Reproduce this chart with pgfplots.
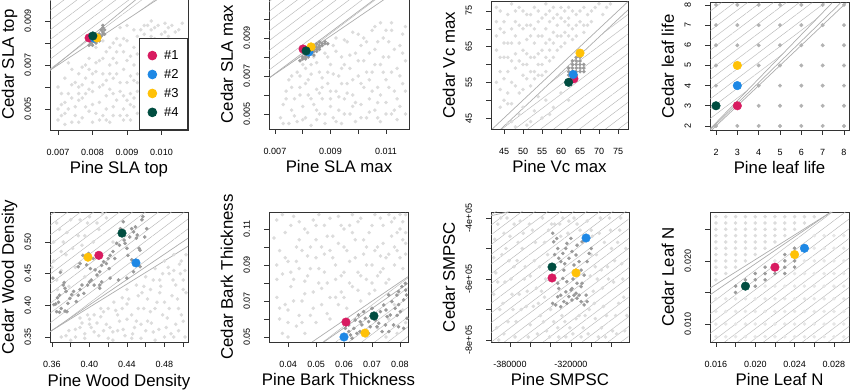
\documentclass[border=0pt]{standalone}
\usepackage{pgfplots}
\pgfplotsset{compat=1.18}
\usepackage{graphicx}
\usepackage{fontspec}
\setmainfont{Liberation Sans}
\usetikzlibrary{patterns.meta}
\definecolor{cA}{HTML}{D81B60}
\definecolor{cB}{HTML}{1E88E5}
\definecolor{cC}{HTML}{FFC107}
\definecolor{cD}{HTML}{004D40}
\definecolor{lg}{HTML}{DCDCDC}
\definecolor{dg}{HTML}{9A9A9A}
\definecolor{mg}{HTML}{B2B2B2}
\definecolor{fg}{HTML}{E6E6E6}
\definecolor{hg}{HTML}{B8B8B8}
\definecolor{bg}{HTML}{ADADAD}
\definecolor{fr}{HTML}{333333}
\newcommand\rl[1]{\rotatebox{90}{\raisebox{0pt}[\height][0pt]{#1}}}
\pgfplotsset{
 panel/.style={scale only axis, anchor=south west,
  axis line style={draw=fr, line width=0.8pt},
  tick align=outside, tick pos=left, major tick length=5pt,
  tick style={draw=fr, line width=0.6pt}, scaled ticks=false,
  xticklabel style={font=\fontsize{9}{10}\selectfont, anchor=north, inner sep=0pt, yshift=-14pt},
  yticklabel style={font=\fontsize{9}{10}\selectfont, anchor=east, inner sep=0pt, xshift=-14pt},
  every axis x label/.style={at={(axis description cs:0.5,0)}, anchor=base, yshift=-44pt, font=\fontsize{16.8}{20}\selectfont},
  every axis y label/.style={at={(axis description cs:0,0.5)}, anchor=east, inner sep=0pt, xshift=-36pt, font=\fontsize{16.8}{20}\selectfont}},
 lp/.style={only marks, mark=*, mark size=1.6pt, color=lg, forget plot},
 fp/.style={only marks, mark=*, mark size=1.6pt, color=fg, forget plot},
 mp/.style={only marks, mark=*, mark size=1.8pt, color=mg, forget plot},
 dp/.style={only marks, mark=*, mark size=1.6pt, color=dg, forget plot},
 hatch/.style={draw=none, pattern={Lines[angle=37,distance=7.8pt,line width=0.45pt]}, pattern color=hg, forget plot},
 bl/.style={draw=bg, line width=0.7pt, mark=none, forget plot},
 cpt/.style={only marks, mark=*, mark size=4.3pt, color=#1, legend image code/.code={\fill[#1] (0pt,0pt) circle (4.4pt);}},
 cpf/.style={only marks, mark=*, mark size=4.3pt, color=#1, forget plot},
}
\begin{document}
\begin{tikzpicture}
\path[use as bounding box] (0pt,0pt) rectangle (850pt,390pt);
% ---------------- P1 SLA top
\begin{axis}[panel, at={(50pt,260pt)}, width=138pt, height=131pt,
 xmin=0.006768, xmax=0.010768, ymin=0.004045, ymax=0.0100,
 xtick={0.007,0.008,0.009,0.010}, xticklabels={0.007,0.008,0.009,0.010},
 ytick={0.005,0.006,0.007,0.008,0.009}, yticklabels={\rl{0.005},,\rl{0.007},,\rl{0.009}},
 xlabel={Pine SLA top}, ylabel={\rl{Cedar SLA top}},
 legend style={at={(1,0)}, anchor=south east, draw=fr, line width=0.8pt, fill=white,
  font=\fontsize{13}{13}\selectfont, inner xsep=8pt, inner ysep=11pt, row sep=6.4pt, column sep=6pt, nodes={inner sep=1pt}},
 legend cell align=left]
\addplot[lp] coordinates {(0.0070,0.0045) (0.0071,0.0052) (0.0070,0.0060) (0.0072,0.0048) (0.0073,0.0057) (0.0072,0.0064) (0.0074,0.0044) (0.0075,0.0051) (0.0074,0.0068) (0.0076,0.0060) (0.0077,0.0046) (0.0077,0.0055) (0.0078,0.0064) (0.0078,0.0070) (0.0079,0.0049) (0.0080,0.0058) (0.0080,0.0044) (0.0081,0.0067) (0.0082,0.0053) (0.0082,0.0072) (0.0083,0.0047) (0.0083,0.0061) (0.0084,0.0056) (0.0085,0.0070) (0.0085,0.0044) (0.0086,0.0064) (0.0086,0.0051) (0.0087,0.0076) (0.0088,0.0058) (0.0088,0.0047) (0.0089,0.0068) (0.0089,0.0082) (0.0090,0.0054) (0.0090,0.0062) (0.0091,0.0045) (0.0091,0.0074) (0.0092,0.0086) (0.0092,0.0051) (0.0093,0.0066) (0.0093,0.0058) (0.0094,0.0079) (0.0094,0.0044) (0.0095,0.0084) (0.0095,0.0088) (0.0096,0.0081) (0.0097,0.0086) (0.0098,0.0082) (0.0099,0.0088) (0.0100,0.0080) (0.0101,0.0085) (0.0102,0.0083) (0.0103,0.0088) (0.0104,0.0080) (0.0105,0.0086) (0.0088,0.0087) (0.0090,0.0088) (0.0086,0.0080) (0.0084,0.0076) (0.0079,0.0073) (0.0076,0.0066) (0.0073,0.0071) (0.0071,0.0057) (0.0075,0.0047) (0.0076,0.0054) (0.0078,0.0051) (0.0080,0.0062) (0.0081,0.0048) (0.0083,0.0066) (0.0084,0.0050) (0.0085,0.0059) (0.0087,0.0054) (0.0087,0.0066) (0.0089,0.0050) (0.0090,0.0072) (0.0091,0.0057) (0.0092,0.0063) (0.0093,0.0048) (0.0092,0.0078) (0.0089,0.0076) (0.0086,0.0073) (0.0082,0.0060) (0.0079,0.0059) (0.0074,0.0055) (0.0072,0.0043) (0.0077,0.0061) (0.0081,0.0078) (0.0083,0.0081) (0.0097,0.0090) (0.0101,0.0089) (0.0105,0.0081) (0.0099,0.0079)};
\addplot[lp] coordinates {(0.0071,0.0047) (0.0073,0.0050) (0.0075,0.0062) (0.0076,0.0044) (0.0077,0.0069) (0.0078,0.0057) (0.0080,0.0066) (0.0080,0.0052) (0.0081,0.0071) (0.0082,0.0045) (0.0084,0.0063) (0.0085,0.0066) (0.0086,0.0047) (0.0086,0.0057) (0.0087,0.0071) (0.0088,0.0062) (0.0088,0.0079) (0.0089,0.0056) (0.0090,0.0047) (0.0090,0.0081) (0.0091,0.0065) (0.0091,0.0052) (0.0092,0.0070) (0.0093,0.0083) (0.0093,0.0075) (0.0094,0.0061) (0.0094,0.0086) (0.0095,0.0079) (0.0096,0.0088) (0.0097,0.0083) (0.0098,0.0087) (0.0100,0.0084) (0.0102,0.0087) (0.0104,0.0085) (0.0106,0.0089) (0.0079,0.0068) (0.0083,0.0073) (0.0085,0.0078) (0.0087,0.0082) (0.0074,0.0061) (0.0072,0.0053) (0.0070,0.0050) (0.0076,0.0057) (0.0084,0.0045) (0.0089,0.0045) (0.0092,0.0055) (0.0093,0.0062)};
\addplot[hatch] coordinates {(0.006768,0.00676) (0.0099,0.0100) (0.006768,0.0100)} -- cycle;
\addplot[bl] coordinates {(0.006768,0.00676) (0.00928,0.0100)};
\addplot[bl] coordinates {(0.006768,0.00676) (0.0099,0.0100)};
\addplot[dp] coordinates {(0.00790,0.00790) (0.00795,0.00800) (0.00800,0.00805) (0.00805,0.00810) (0.00810,0.00815) (0.00815,0.00820) (0.00820,0.00820) (0.00825,0.00830) (0.00830,0.00840) (0.00830,0.00850) (0.00825,0.00860) (0.00830,0.00870) (0.00810,0.00800) (0.00820,0.00810) (0.00800,0.00790) (0.00805,0.00825) (0.00820,0.00840) (0.00815,0.00835) (0.00835,0.00840) (0.00810,0.00830) (0.00835,0.00860) (0.00830,0.00880) (0.00795,0.00815)};
\addplot[cpt=cA] coordinates {(0.00790,0.00823)};
\addplot[cpt=cB] coordinates {(0.00805,0.00822)};
\addplot[cpt=cC] coordinates {(0.00813,0.00823)};
\addplot[cpt=cD] coordinates {(0.00801,0.00832)};
\legend{\#1,\#2,\#3,\#4}
\end{axis}
% ---------------- P2 SLA max
\begin{axis}[panel, at={(269pt,261pt)}, width=140pt, height=130pt,
 xmin=0.006784, xmax=0.011829, ymin=0.004211, ymax=0.01105,
 xtick={0.007,0.008,0.009,0.010,0.011}, xticklabels={0.007,,0.009,,0.011},
 ytick={0.005,0.006,0.007,0.008,0.009,0.010}, yticklabels={\rl{0.005},,\rl{0.007},,\rl{0.009},},
 xlabel={Pine SLA max}, ylabel={\rl{Cedar SLA max}}]
\addplot[lp] coordinates {(0.0072,0.0048) (0.0073,0.0055) (0.0074,0.0062) (0.0075,0.0045) (0.0075,0.0068) (0.0076,0.0052) (0.0077,0.0058) (0.0078,0.0072) (0.0078,0.0046) (0.0079,0.0064) (0.0080,0.0054) (0.0080,0.0076) (0.0081,0.0048) (0.0082,0.0060) (0.0082,0.0068) (0.0083,0.0044) (0.0084,0.0055) (0.0084,0.0080) (0.0085,0.0063) (0.0086,0.0050) (0.0086,0.0072) (0.0087,0.0058) (0.0088,0.0082) (0.0088,0.0045) (0.0089,0.0066) (0.0090,0.0054) (0.0090,0.0076) (0.0091,0.0048) (0.0091,0.0086) (0.0092,0.0062) (0.0093,0.0070) (0.0093,0.0052) (0.0094,0.0080) (0.0094,0.0045) (0.0095,0.0058) (0.0096,0.0066) (0.0096,0.0088) (0.0097,0.0050) (0.0097,0.0074) (0.0098,0.0060) (0.0099,0.0082) (0.0099,0.0046) (0.0100,0.0070) (0.0100,0.0092) (0.0101,0.0055) (0.0102,0.0064) (0.0102,0.0078) (0.0103,0.0048) (0.0103,0.0088) (0.0104,0.0058) (0.0105,0.0072) (0.0105,0.0094) (0.0106,0.0052) (0.0106,0.0084) (0.0107,0.0064) (0.0108,0.0076) (0.0108,0.0046) (0.0109,0.0090) (0.0110,0.0056) (0.0110,0.0068) (0.0111,0.0080) (0.0112,0.0050) (0.0112,0.0094) (0.0113,0.0062) (0.0114,0.0074) (0.0115,0.0086) (0.0115,0.0054) (0.0116,0.0066) (0.0117,0.0078) (0.0117,0.0096) (0.0076,0.0064) (0.0079,0.0070) (0.0083,0.0076) (0.0087,0.0064) (0.0092,0.0090) (0.0089,0.0072) (0.0095,0.0076) (0.0098,0.0054) (0.0101,0.0086) (0.0104,0.0068) (0.0107,0.0056) (0.0109,0.0072) (0.0111,0.0088) (0.0113,0.0052) (0.0116,0.0092) (0.0081,0.0074) (0.0085,0.0047) (0.0090,0.0058) (0.0094,0.0066)};
\addplot[lp] coordinates {(0.0073,0.0045) (0.0074,0.0058) (0.0076,0.0070) (0.0077,0.0049) (0.0079,0.0060) (0.0080,0.0047) (0.0081,0.0066) (0.0083,0.0058) (0.0083,0.0071) (0.0085,0.0052) (0.0085,0.0077) (0.0086,0.0061) (0.0087,0.0069) (0.0088,0.0050) (0.0089,0.0080) (0.0090,0.0062) (0.0091,0.0071) (0.0092,0.0046) (0.0092,0.0083) (0.0093,0.0059) (0.0094,0.0074) (0.0095,0.0050) (0.0095,0.0089) (0.0096,0.0061) (0.0097,0.0081) (0.0098,0.0068) (0.0098,0.0093) (0.0099,0.0056) (0.0100,0.0078) (0.0101,0.0048) (0.0101,0.0066) (0.0102,0.0090) (0.0103,0.0072) (0.0104,0.0051) (0.0104,0.0082) (0.0105,0.0062) (0.0106,0.0076) (0.0106,0.0096) (0.0107,0.0048) (0.0107,0.0088) (0.0108,0.0060) (0.0109,0.0080) (0.0110,0.0050) (0.0110,0.0094) (0.0111,0.0064) (0.0112,0.0072) (0.0113,0.0084) (0.0114,0.0047) (0.0114,0.0058) (0.0115,0.0070) (0.0116,0.0082) (0.0117,0.0050) (0.0117,0.0062) (0.0112,0.0098) (0.0108,0.0098)};
\addplot[hatch] coordinates {(0.006784,0.00689) (0.01096,0.01105) (0.006784,0.01105)} -- cycle;
\addplot[bl] coordinates {(0.006784,0.00689) (0.0106,0.01105)};
\addplot[bl] coordinates {(0.006784,0.00689) (0.01096,0.01105)};
\addplot[dp] coordinates {(0.0079,0.0078) (0.0080,0.0079) (0.0081,0.0080) (0.0081,0.0081) (0.0082,0.0082) (0.0083,0.0082) (0.0083,0.0083) (0.0084,0.0083) (0.0084,0.0084) (0.0085,0.0084) (0.0085,0.0085) (0.0086,0.0085) (0.0086,0.0086) (0.0087,0.0086) (0.0087,0.0087) (0.0088,0.0087) (0.0088,0.0088) (0.0089,0.0087) (0.0082,0.0080) (0.0084,0.0081) (0.0085,0.0083) (0.0086,0.0084) (0.0083,0.0084) (0.0080,0.0080) (0.0082,0.0084) (0.0084,0.0086) (0.0085,0.0087) (0.0086,0.0088) (0.0081,0.0079)};
\addplot[cpf=cA] coordinates {(0.00801,0.00842)};
\addplot[cpf=cB] coordinates {(0.00822,0.00826)};
\addplot[cpf=cC] coordinates {(0.00830,0.00853)};
\addplot[cpf=cD] coordinates {(0.00812,0.00832)};
\end{axis}
% ---------------- P3 Vc max
\begin{axis}[panel, at={(491pt,261pt)}, width=137pt, height=127.3pt,
 xmin=41.58, xmax=77.63, ymin=41.92, ymax=77.6,
 xtick={45,50,55,60,65,70,75}, xticklabels={45,50,55,60,65,70,75},
 ytick={45,50,55,60,65,70,75}, yticklabels={\rl{45},,\rl{55},,\rl{65},,\rl{75}},
 xlabel={Pine Vc max}, ylabel={\rl{Cedar Vc max}}]
\addplot[lp] coordinates {(43,76) (44,70) (45,66) (46,74) (47,61) (48,68) (49,76) (50,57) (50,64) (51,71) (52,54) (53,66) (54,75) (55,60) (56,70) (57,64) (58,76) (59,68) (60,73) (61,66) (62,76) (63,70) (64,74) (66,76) (68,75) (70,77) (44,58) (45,50) (46,62) (47,55) (48,72) (49,52) (51,60) (52,74) (53,58) (54,68) (55,64) (57,72) (58,62) (59,74) (60,68) (62,71) (65,72) (67,74) (43,64) (44,48) (46,52) (48,63) (50,70) (52,62) (53,76) (56,58) (57,67) (61,72) (63,75) (45,72) (47,77) (49,66) (51,67) (54,63) (56,74) (58,66) (55,73) (60,76) (62,68) (43,55) (47,66) (52,68) (64,68) (66,71) (72,76) (59,64) (56,62) (54,57) (47,44) (49,46) (51,43) (53,47) (55,45) (56,50) (50,48) (58,48) (60,52) (52,44) (54,51) (57,46) (62,50) (46,43.5) (48,42.5)};
\addplot[lp] coordinates {(43,68) (43,72) (44,62) (44,75) (45,56) (45,69) (46,58) (46,66) (47,49) (47,70) (48,54) (48,59) (48,75) (49,61) (49,71) (50,53) (50,75) (51,56) (51,63) (51,74) (52,58) (52,71) (53,62) (53,70) (54,60) (54,72) (55,57) (55,68) (56,66) (56,77) (57,61) (57,75) (58,69) (58,73) (59,71) (60,65) (61,69) (61,75) (62,73) (63,67) (64,71) (65,75) (66,69) (67,71) (68,72) (69,76) (71,74) (73,77) (44,53) (46,49) (45,62) (53,56) (50,60)};
\addplot[hatch] coordinates {(44.2,41.92) (77.63,75.3) (77.63,41.92)} -- cycle;
\addplot[bl] coordinates {(41.92,41.92) (77.6,77.6)};
\addplot[bl] coordinates {(44.2,41.92) (77.63,75.3)};
\addplot[dp] coordinates {(62,57) (62,58) (62,59) (63,58) (63,59) (63,60) (63,61) (64,56) (64,57) (64,58) (64,59) (64,60) (64,61) (64,62) (65,58) (65,59) (65,60) (65,61) (66,58) (66,59) (66,60) (65,62) (63,57)};
\addplot[cpf=cA] coordinates {(63.4,56)};
\addplot[cpf=cB] coordinates {(63.2,57.2)};
\addplot[cpf=cC] coordinates {(65,63.2)};
\addplot[cpf=cD] coordinates {(62,55)};
\end{axis}
% ---------------- P4 leaf life
\begin{axis}[panel, at={(710pt,260pt)}, width=139pt, height=127.3pt,
 xmin=1.719, xmax=8.235, ymin=1.80, ymax=8.11,
 xtick={2,3,4,5,6,7,8}, xticklabels={2,3,4,5,6,7,8},
 ytick={2,3,4,5,6,7,8}, yticklabels={\rl{2},\rl{3},\rl{4},\rl{5},\rl{6},\rl{7},\rl{8}},
 xlabel={Pine leaf life}, ylabel={\rl{Cedar leaf life}}]
\addplot[hatch] coordinates {(1.719,1.85) (7.45,8.11) (1.719,8.11)} -- cycle;
\addplot[bl] coordinates {(1.719,1.85) (7.45,8.11)};
\addplot[bl] coordinates {(1.719,1.80) (7.85,8.11)};
\addplot[bl] coordinates {(1.80,1.80) (8.11,8.11)};
\addplot[mp] coordinates {(2,2) (3,2) (4,2) (5,2) (6,2) (7,2) (8,2) (2,3) (3,3) (4,3) (5,3) (6,3) (7,3) (8,3) (2,4) (3,4) (4,4) (5,4) (6,4) (7,4) (8,4) (2,5) (3,5) (4,5) (5,5) (6,5) (7,5) (8,5) (2,6) (3,6) (4,6) (5,6) (6,6) (7,6) (8,6) (2,7) (3,7) (4,7) (5,7) (6,7) (7,7) (8,7) (2,8) (3,8) (4,8) (5,8) (6,8) (7,8) (8,8)};
\addplot[cpf=cA] coordinates {(3,3)};
\addplot[cpf=cB] coordinates {(3,4)};
\addplot[cpf=cC] coordinates {(3,5)};
\addplot[cpf=cD] coordinates {(2,3)};
\end{axis}
% ---------------- P5 Wood density
\begin{axis}[panel, at={(50pt,48pt)}, width=138pt, height=130pt,
 xmin=0.3579, xmax=0.5051, ymin=0.3421, ymax=0.5474,
 xtick={0.36,0.38,0.40,0.42,0.44,0.46,0.48,0.50}, xticklabels={0.36,,0.40,,0.44,,0.48,},
 ytick={0.35,0.40,0.45,0.50}, yticklabels={\rl{0.35},\rl{0.40},\rl{0.45},\rl{0.50}},
 xlabel={Pine Wood Density}, ylabel={\rl{Cedar Wood Density}}]
\addplot[lp] coordinates {(0.375,0.352) (0.385,0.362) (0.395,0.355) (0.392,0.372) (0.402,0.365) (0.41,0.352) (0.412,0.382) (0.418,0.37) (0.425,0.358) (0.428,0.392) (0.432,0.375) (0.438,0.352) (0.44,0.402) (0.445,0.385) (0.448,0.365) (0.452,0.415) (0.455,0.348) (0.458,0.395) (0.462,0.375) (0.465,0.425) (0.468,0.358) (0.472,0.405) (0.475,0.44) (0.478,0.385) (0.482,0.365) (0.485,0.45) (0.488,0.415) (0.49,0.35) (0.492,0.432) (0.495,0.395) (0.498,0.47) (0.5,0.375) (0.502,0.455) (0.503,0.42) (0.38,0.345) (0.4,0.378) (0.42,0.395) (0.435,0.412) (0.45,0.432) (0.46,0.445) (0.47,0.458) (0.48,0.47) (0.49,0.48) (0.425,0.345) (0.445,0.348) (0.47,0.345) (0.495,0.36) (0.465,0.39) (0.43,0.36) (0.415,0.36) (0.455,0.37) (0.485,0.395) (0.475,0.42) (0.49,0.455) (0.395,0.348) (0.405,0.385) (0.44,0.378) (0.5,0.44) (0.48,0.35) (0.362,0.47) (0.368,0.52) (0.372,0.5) (0.375,0.48) (0.38,0.535) (0.385,0.46) (0.388,0.51) (0.392,0.495) (0.398,0.53) (0.404,0.5) (0.41,0.52) (0.418,0.538) (0.365,0.44) (0.37,0.455) (0.378,0.43) (0.425,0.5) (0.395,0.445)};
\addplot[lp] coordinates {(0.385,0.35) (0.39,0.365) (0.398,0.385) (0.405,0.358) (0.408,0.372) (0.415,0.39) (0.42,0.348) (0.422,0.365) (0.43,0.385) (0.435,0.395) (0.436,0.362) (0.442,0.41) (0.446,0.355) (0.45,0.375) (0.452,0.395) (0.456,0.42) (0.46,0.36) (0.462,0.41) (0.466,0.372) (0.468,0.44) (0.47,0.395) (0.474,0.362) (0.476,0.43) (0.48,0.405) (0.483,0.38) (0.484,0.46) (0.487,0.355) (0.489,0.44) (0.492,0.37) (0.494,0.41) (0.496,0.465) (0.498,0.385) (0.5,0.425) (0.502,0.35) (0.503,0.48) (0.497,0.45) (0.478,0.45) (0.458,0.43) (0.44,0.425) (0.426,0.405) (0.412,0.395) (0.4,0.37) (0.39,0.38) (0.378,0.36) (0.37,0.35) (0.362,0.5) (0.365,0.53) (0.37,0.485) (0.376,0.515) (0.382,0.49) (0.39,0.535) (0.395,0.51) (0.4,0.54) (0.408,0.53) (0.414,0.545) (0.36,0.46) (0.366,0.425)};
\addplot[hatch] coordinates {(0.3579,0.3584) (0.5051,0.506) (0.5051,0.5474) (0.3579,0.5474)} -- cycle;
\addplot[bl] coordinates {(0.3579,0.3584) (0.5051,0.506)};
\addplot[bl] coordinates {(0.3579,0.3584) (0.5051,0.4933)};
\addplot[dp] coordinates {(0.361,0.443) (0.362,0.401) (0.369,0.452) (0.372,0.432) (0.373,0.436) (0.374,0.427) (0.375,0.422) (0.368,0.416) (0.366,0.412) (0.364,0.402) (0.367,0.405) (0.370,0.395) (0.365,0.390) (0.368,0.389) (0.374,0.391) (0.376,0.390) (0.377,0.403) (0.379,0.411) (0.381,0.417) (0.383,0.422) (0.386,0.406) (0.388,0.416) (0.390,0.425) (0.392,0.432) (0.394,0.419) (0.398,0.432) (0.400,0.437) (0.402,0.440) (0.405,0.432) (0.408,0.448) (0.406,0.456) (0.401,0.458) (0.397,0.464) (0.390,0.466) (0.388,0.461) (0.393,0.479) (0.399,0.482) (0.404,0.474) (0.411,0.453) (0.413,0.463) (0.415,0.469) (0.418,0.466) (0.421,0.458) (0.420,0.474) (0.422,0.479) (0.425,0.485) (0.427,0.474) (0.429,0.498) (0.432,0.495) (0.433,0.521) (0.436,0.532) (0.437,0.503) (0.438,0.498) (0.440,0.490) (0.441,0.479) (0.443,0.508) (0.445,0.521) (0.447,0.516) (0.449,0.524) (0.450,0.506) (0.451,0.511) (0.453,0.490) (0.454,0.487) (0.456,0.535) (0.457,0.540) (0.459,0.508) (0.461,0.521) (0.440,0.443) (0.447,0.453) (0.454,0.461) (0.445,0.472) (0.422,0.443) (0.431,0.440) (0.411,0.432) (0.413,0.437) (0.411,0.427)};
\addplot[cpf=cA] coordinates {(0.410,0.479)};
\addplot[cpf=cB] coordinates {(0.4496,0.467)};
\addplot[cpf=cC] coordinates {(0.3984,0.476)};
\addplot[cpf=cD] coordinates {(0.4347,0.514)};
\end{axis}
% ---------------- P6 Bark thickness
\begin{axis}[panel, at={(269pt,48pt)}, width=139pt, height=130pt,
 xmin=0.03321, xmax=0.08286, ymin=0.04722, ymax=0.11944,
 xtick={0.04,0.05,0.06,0.07,0.08}, xticklabels={0.04,0.05,0.06,0.07,0.08},
 ytick={0.05,0.06,0.07,0.08,0.09,0.10,0.11}, yticklabels={\rl{0.05},,\rl{0.07},,\rl{0.09},,\rl{0.11}},
 xlabel={Pine Bark Thickness}, ylabel={\rl{Cedar Bark Thickness}}]
\addplot[lp] coordinates {(0.036,0.115) (0.037,0.098) (0.038,0.085) (0.036,0.072) (0.037,0.060) (0.038,0.052) (0.039,0.108) (0.040,0.092) (0.041,0.078) (0.040,0.065) (0.042,0.117) (0.043,0.100) (0.043,0.056) (0.044,0.088) (0.045,0.070) (0.046,0.110) (0.046,0.081) (0.047,0.095) (0.048,0.062) (0.049,0.115) (0.049,0.075) (0.050,0.104) (0.051,0.088) (0.052,0.068) (0.053,0.112) (0.053,0.096) (0.054,0.080) (0.055,0.060) (0.056,0.106) (0.057,0.090) (0.057,0.072) (0.058,0.117) (0.059,0.084) (0.060,0.100) (0.061,0.066) (0.062,0.112) (0.062,0.092) (0.063,0.078) (0.064,0.104) (0.065,0.086) (0.066,0.116) (0.066,0.070) (0.067,0.096) (0.068,0.082) (0.069,0.108) (0.070,0.090) (0.071,0.118) (0.071,0.076) (0.072,0.100) (0.073,0.086) (0.074,0.112) (0.075,0.094) (0.076,0.082) (0.077,0.106) (0.078,0.116) (0.078,0.090) (0.079,0.098) (0.080,0.110) (0.081,0.088) (0.082,0.118) (0.082,0.102) (0.081,0.114) (0.036,0.090) (0.039,0.068) (0.042,0.082) (0.044,0.104) (0.045,0.058) (0.048,0.088) (0.051,0.118) (0.052,0.077) (0.055,0.098) (0.058,0.068) (0.060,0.110) (0.063,0.118) (0.068,0.100) (0.074,0.088) (0.076,0.118) (0.065,0.076) (0.050,0.058) (0.040,0.050) (0.046,0.052) (0.054,0.063) (0.059,0.075) (0.070,0.080) (0.073,0.095) (0.072,0.055) (0.076,0.060) (0.079,0.052) (0.075,0.050) (0.081,0.065) (0.078,0.068) (0.068,0.050) (0.082,0.058)};
\addplot[lp] coordinates {(0.035,0.105) (0.036,0.082) (0.037,0.066) (0.038,0.118) (0.039,0.094) (0.040,0.058) (0.041,0.112) (0.041,0.086) (0.042,0.070) (0.043,0.092) (0.044,0.062) (0.044,0.114) (0.045,0.098) (0.046,0.074) (0.047,0.108) (0.047,0.084) (0.048,0.100) (0.049,0.066) (0.050,0.094) (0.050,0.112) (0.051,0.080) (0.052,0.100) (0.053,0.086) (0.054,0.106) (0.055,0.072) (0.055,0.116) (0.056,0.094) (0.057,0.082) (0.058,0.102) (0.059,0.112) (0.060,0.086) (0.060,0.072) (0.061,0.098) (0.062,0.080) (0.063,0.108) (0.064,0.094) (0.065,0.114) (0.066,0.084) (0.067,0.104) (0.068,0.090) (0.069,0.074) (0.070,0.112) (0.071,0.098) (0.072,0.084) (0.073,0.116) (0.074,0.102) (0.075,0.080) (0.076,0.096) (0.077,0.114) (0.078,0.100) (0.079,0.108) (0.080,0.094) (0.081,0.104) (0.082,0.096) (0.080,0.118) (0.082,0.108)};
\addplot[hatch] coordinates {(0.0486,0.04722) (0.08286,0.0835) (0.08286,0.04722)} -- cycle;
\addplot[bl] coordinates {(0.0486,0.04722) (0.08286,0.0835)};
\addplot[bl] coordinates {(0.0528,0.04722) (0.08286,0.0798)};
\addplot[dp] coordinates {(0.0605,0.0548) (0.0617,0.0567) (0.0623,0.0511) (0.0629,0.0493) (0.0635,0.0548) (0.0640,0.0594) (0.0652,0.0622) (0.0658,0.0585) (0.0664,0.0567) (0.0670,0.0641) (0.0676,0.0604) (0.0688,0.0585) (0.0694,0.0557) (0.0700,0.0659) (0.0712,0.0594) (0.0718,0.0557) (0.0724,0.0576) (0.0730,0.0641) (0.0736,0.0530) (0.0742,0.0678) (0.0748,0.0567) (0.0754,0.0613) (0.0760,0.0733) (0.0765,0.0622) (0.0771,0.0696) (0.0777,0.0567) (0.0783,0.0659) (0.0789,0.0733) (0.0795,0.0752) (0.0801,0.0641) (0.0807,0.0780) (0.0813,0.0706) (0.0819,0.0798) (0.0823,0.0733) (0.0825,0.0604) (0.0813,0.0548) (0.0795,0.0557) (0.0617,0.0530) (0.0646,0.0520) (0.0688,0.0520) (0.0760,0.0530) (0.0795,0.0680) (0.0820,0.0760) (0.0790,0.0620) (0.0750,0.0650) (0.0710,0.0610) (0.0657,0.0530)};
\addplot[cpf=cA] coordinates {(0.0607,0.0583)};
\addplot[cpf=cB] coordinates {(0.0600,0.0500)};
\addplot[cpf=cC] coordinates {(0.0675,0.0522)};
\addplot[cpf=cD] coordinates {(0.0707,0.0617)};
\end{axis}
% ---------------- P7 SMPSC
\begin{axis}[panel, at={(491pt,48pt)}, width=138pt, height=130pt,
 xmin=-398700, xmax=-262800, ymin=-806560, ymax=-380330,
 xtick={-380000,-360000,-340000,-320000,-300000,-280000}, xticklabels={-380000,,,-320000,,},
 ytick={-800000,-700000,-600000,-500000,-400000}, yticklabels={\rl{-8e+05},,\rl{-6e+05},,\rl{-4e+05}},
 xlabel={Pine SMPSC}, ylabel={\rl{Cedar SMPSC}}]
\addplot[lp] coordinates {(-392000,-420000) (-388000,-520000) (-385000,-610000) (-390000,-700000) (-386000,-780000) (-380000,-460000) (-376000,-560000) (-378000,-650000) (-374000,-740000) (-370000,-410000) (-368000,-500000) (-366000,-600000) (-364000,-690000) (-362000,-790000) (-358000,-440000) (-356000,-540000) (-354000,-630000) (-350000,-720000) (-348000,-400000) (-346000,-480000) (-344000,-770000) (-340000,-700000) (-336000,-420000) (-332000,-790000) (-328000,-400000) (-326000,-740000) (-322000,-410000) (-318000,-780000) (-314000,-420000) (-312000,-720000) (-308000,-760000) (-304000,-410000) (-300000,-520000) (-298000,-640000) (-296000,-730000) (-292000,-450000) (-290000,-570000) (-288000,-690000) (-286000,-790000) (-282000,-400000) (-280000,-500000) (-278000,-610000) (-276000,-720000) (-272000,-440000) (-270000,-550000) (-268000,-660000) (-267000,-770000) (-395000,-470000) (-394000,-580000) (-393000,-760000) (-383000,-400000) (-372000,-480000) (-360000,-590000) (-352000,-680000) (-342000,-440000) (-300000,-440000) (-294000,-600000) (-284000,-560000) (-274000,-480000) (-360000,-750000) (-377000,-700000) (-381000,-540000) (-371000,-650000) (-330000,-460000) (-310000,-790000) (-275000,-780000) (-290000,-760000) (-386000,-450000)};
\addplot[lp] coordinates {(-396000,-530000) (-396000,-650000) (-392000,-610000) (-391000,-800000) (-389000,-400000) (-387000,-680000) (-384000,-500000) (-382000,-740000) (-379000,-600000) (-376000,-420000) (-375000,-790000) (-373000,-540000) (-369000,-700000) (-367000,-450000) (-365000,-560000) (-363000,-640000) (-361000,-420000) (-357000,-690000) (-355000,-480000) (-353000,-780000) (-351000,-560000) (-349000,-640000) (-347000,-740000) (-345000,-600000) (-343000,-520000) (-341000,-790000) (-339000,-420000) (-337000,-740000) (-333000,-760000) (-331000,-420000) (-329000,-720000) (-325000,-790000) (-323000,-450000) (-321000,-760000) (-317000,-400000) (-315000,-730000) (-311000,-440000) (-306000,-720000) (-303000,-780000) (-301000,-590000) (-299000,-460000) (-297000,-680000) (-295000,-520000) (-293000,-790000) (-291000,-400000) (-289000,-630000) (-287000,-480000) (-285000,-720000) (-283000,-600000) (-281000,-440000) (-279000,-770000) (-277000,-540000) (-273000,-680000) (-271000,-400000) (-269000,-600000) (-266000,-500000) (-265000,-720000) (-346000,-660000) (-302000,-700000) (-296000,-560000)};
\addplot[hatch] coordinates {(-398700,-806560) (-262800,-806560) (-262800,-380330) (-398700,-380330)} -- cycle;
\addplot[bl] coordinates {(-398700,-392500) (-382000,-380330)};
\addplot[dp] coordinates {(-338000,-450000) (-337000,-478000) (-334000,-467000) (-333000,-500000) (-332000,-532000) (-330000,-543000) (-328000,-516000) (-327000,-571000) (-325000,-500000) (-324000,-483000) (-322000,-532000) (-320000,-467000) (-319000,-510000) (-317000,-554000) (-315000,-521000) (-314000,-489000) (-312000,-543000) (-310000,-571000) (-309000,-478000) (-307000,-587000) (-304000,-543000) (-302000,-516000) (-333000,-614000) (-332000,-631000) (-330000,-653000) (-328000,-598000) (-327000,-674000) (-325000,-642000) (-324000,-609000) (-322000,-658000) (-320000,-636000) (-319000,-669000) (-317000,-653000) (-315000,-647000) (-314000,-663000) (-312000,-653000) (-310000,-674000) (-309000,-614000) (-307000,-685000) (-304000,-674000) (-335000,-685000) (-338000,-680000) (-333000,-658000) (-330000,-691000) (-324000,-680000) (-319000,-631000) (-314000,-614000) (-310000,-625000) (-305000,-653000) (-336000,-520000) (-326000,-550000) (-318000,-600000) (-300000,-500000)};
\addplot[cpf=cA] coordinates {(-338600,-596700)};
\addplot[cpf=cB] coordinates {(-305100,-465600)};
\addplot[cpf=cC] coordinates {(-315000,-580000)};
\addplot[cpf=cD] coordinates {(-338600,-560700)};
\end{axis}
% ---------------- P8 Leaf N
\begin{axis}[panel, at={(710pt,48pt)}, width=139pt, height=130pt,
 xmin=0.0154, xmax=0.02953, ymin=0.00716, ymax=0.02774,
 xtick={0.016,0.018,0.020,0.022,0.024,0.026,0.028}, xticklabels={0.016,,0.020,,0.024,,0.028},
 ytick={0.010,0.015,0.020,0.025}, yticklabels={\rl{0.010},,\rl{0.020},},
 xlabel={Pine Leaf N}, ylabel={\rl{Cedar Leaf N}}]
\addplot[lp] coordinates {(0.016,0.027) (0.017,0.027) (0.018,0.027) (0.019,0.027) (0.020,0.027) (0.021,0.027) (0.022,0.027) (0.023,0.027) (0.024,0.027) (0.025,0.027) (0.026,0.027)
(0.016,0.026) (0.017,0.026) (0.018,0.026) (0.019,0.026) (0.020,0.026) (0.021,0.026) (0.022,0.026) (0.023,0.026) (0.024,0.026) (0.025,0.026)
(0.016,0.025) (0.017,0.025) (0.018,0.025) (0.019,0.025) (0.020,0.025) (0.021,0.025) (0.022,0.025) (0.023,0.025) (0.024,0.025)
(0.016,0.024) (0.017,0.024) (0.018,0.024) (0.019,0.024) (0.020,0.024) (0.021,0.024) (0.022,0.024) (0.023,0.024)
(0.016,0.023) (0.017,0.023) (0.018,0.023) (0.019,0.023) (0.020,0.023) (0.021,0.023) (0.022,0.023)
(0.016,0.022) (0.017,0.022) (0.018,0.022) (0.019,0.022) (0.020,0.022) (0.021,0.022)
(0.016,0.021) (0.017,0.021) (0.018,0.021) (0.019,0.021) (0.020,0.021)
(0.016,0.020) (0.017,0.020) (0.018,0.020) (0.019,0.020)
(0.016,0.019) (0.017,0.019) (0.018,0.019)
(0.016,0.018) (0.017,0.018)
(0.016,0.017)};
\addplot[fp] coordinates {(0.016,0.008) (0.017,0.008) (0.018,0.008) (0.019,0.008) (0.020,0.008) (0.021,0.008) (0.022,0.008) (0.023,0.008) (0.024,0.008) (0.025,0.008) (0.026,0.008) (0.027,0.008) (0.028,0.008) (0.029,0.008)
(0.016,0.010) (0.017,0.010) (0.018,0.010) (0.019,0.010) (0.020,0.010) (0.021,0.010) (0.022,0.010) (0.023,0.010) (0.024,0.010) (0.025,0.010) (0.026,0.010) (0.027,0.010) (0.028,0.010) (0.029,0.010)
(0.016,0.012) (0.017,0.012) (0.018,0.012) (0.019,0.012) (0.020,0.012) (0.021,0.012) (0.022,0.012) (0.023,0.012) (0.024,0.012) (0.025,0.012) (0.026,0.012) (0.027,0.012) (0.028,0.012) (0.029,0.012)
(0.016,0.014) (0.017,0.014) (0.018,0.014) (0.019,0.014) (0.020,0.014) (0.021,0.014) (0.022,0.014) (0.023,0.014) (0.024,0.014) (0.025,0.014) (0.026,0.014) (0.027,0.014) (0.028,0.014) (0.029,0.014)
(0.018,0.016) (0.019,0.016) (0.020,0.016) (0.021,0.016) (0.022,0.016) (0.023,0.016) (0.024,0.016) (0.025,0.016) (0.026,0.016) (0.027,0.016) (0.028,0.016) (0.029,0.016)
(0.020,0.018) (0.021,0.018) (0.022,0.018) (0.023,0.018) (0.024,0.018) (0.025,0.018) (0.026,0.018) (0.027,0.018) (0.028,0.018) (0.029,0.018)
(0.022,0.020) (0.023,0.020) (0.024,0.020) (0.025,0.020) (0.026,0.020) (0.027,0.020) (0.028,0.020) (0.029,0.020)
(0.024,0.022) (0.025,0.022) (0.026,0.022) (0.027,0.022) (0.028,0.022) (0.029,0.022)
(0.026,0.024) (0.027,0.024) (0.028,0.024) (0.029,0.024)};
\addplot[hatch] coordinates {(0.0154,0.01463) (0.0277,0.02774) (0.02953,0.02774) (0.02953,0.00716) (0.0154,0.00716)} -- cycle;
\addplot[bl] coordinates {(0.0154,0.01569) (0.0277,0.02774)};
\addplot[bl] coordinates {(0.0154,0.01463) (0.0277,0.02774)};
\addplot[dp] coordinates {(0.018,0.016) (0.018,0.015) (0.019,0.017) (0.020,0.018) (0.020,0.017) (0.020,0.016) (0.021,0.019) (0.021,0.018) (0.021,0.017) (0.022,0.018) (0.023,0.020) (0.023,0.019) (0.023,0.018) (0.024,0.022) (0.024,0.020) (0.024,0.019) (0.023,0.021) (0.019,0.016) (0.022,0.019) (0.024,0.021)};
\addplot[cpf=cA] coordinates {(0.022,0.019)};
\addplot[cpf=cB] coordinates {(0.025,0.022)};
\addplot[cpf=cC] coordinates {(0.024,0.021)};
\addplot[cpf=cD] coordinates {(0.019,0.016)};
\end{axis}
\end{tikzpicture}
\end{document}
